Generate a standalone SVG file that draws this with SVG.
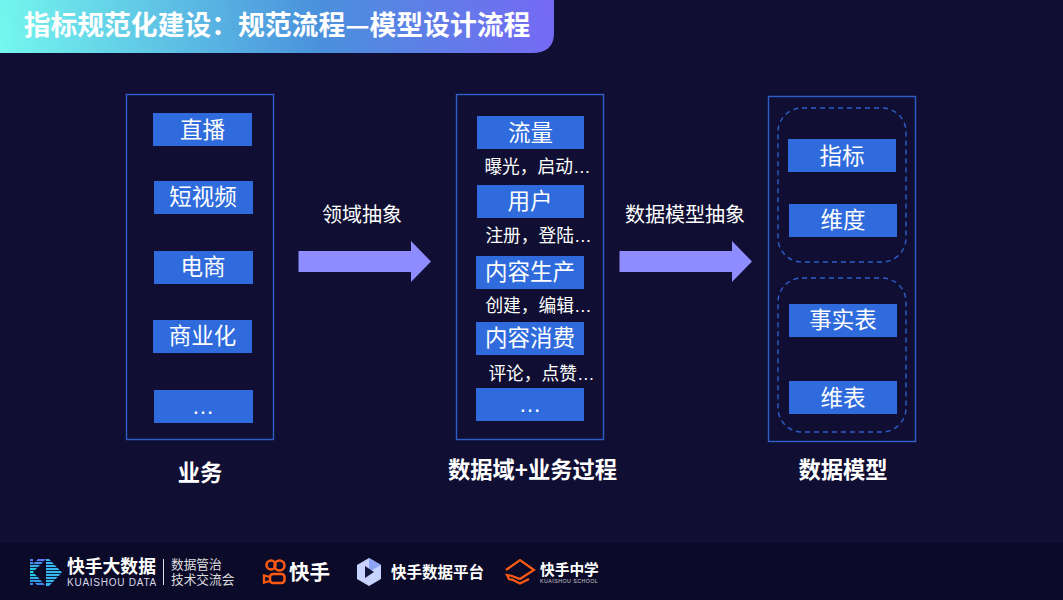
<svg xmlns="http://www.w3.org/2000/svg" width="1063" height="600" viewBox="0 0 1063 600">
<defs>
<linearGradient id="hdr" gradientUnits="userSpaceOnUse" x1="0" y1="50" x2="554" y2="0"><stop offset="0" stop-color="#74f7ee"/><stop offset=".58" stop-color="#4a90dc"/><stop offset="1" stop-color="#7669f4"/></linearGradient>
<linearGradient id="kw" x1="0" y1="0" x2="0" y2="1"><stop offset="0" stop-color="#5a6ff0"/><stop offset=".5" stop-color="#1fe0e6"/><stop offset="1" stop-color="#3f7fe8"/></linearGradient>
</defs>
<style>
text{font-family:"Noto Sans CJK SC","Noto Sans",sans-serif;fill:#fff;text-anchor:middle}
.el{font-family:"Liberation Sans",sans-serif}
.box{fill:#2f6bdc}
.panel{fill:none;stroke:#2c5fc8;stroke-width:1.4}
.dash{fill:none;stroke:#2c5fc8;stroke-width:1.4;stroke-dasharray:5 4}
.b{font-size:22.500px}
.s{font-size:17.700px}
.h{font-size:22.300px;font-weight:700}
.c{font-size:20px}
.arrow{fill:#8e8cff}
.lg{text-anchor:start}
</style>
<rect width="1063" height="600" fill="#100f33"/>
<rect y="543" width="1063" height="57" fill="#0b0b29"/>
<g id="header"><path d="M0 0H554V33Q554 53 532 53H0Z" fill="url(#hdr)"/><text x="277" y="34.500" style="font-size:26.800px;font-weight:700">指标规范化建设：规范流程—模型设计流程</text></g>
<g id="connectors">
<path class="arrow" d="M298.500 251H411V241L431 261.500L411 282V272H298.500Z"/>
<path class="arrow" d="M619.500 251H732V241L752 261.500L732 282V272H619.500Z"/>
</g>
<text class="c" x="362" y="221.500">领域抽象</text>
<text class="c" x="685" y="221.500">数据模型抽象</text>
<g id="biz"><rect class="panel" x="126.500" y="94.500" width="147" height="345"/>
<g id="biz-live"><rect class="box" x="153" y="113" width="99" height="33"/><text class="b" x="202.500" y="137.500">直播</text></g>
<g id="biz-short"><rect class="box" x="154" y="181" width="99" height="33"/><text class="b" x="203" y="204.500">短视频</text></g>
<g id="biz-ec"><rect class="box" x="154" y="251" width="99" height="33"/><text class="b" x="203" y="274.500">电商</text></g>
<g id="biz-com"><rect class="box" x="153" y="320" width="99" height="33"/><text class="b" x="202.500" y="343.500">商业化</text></g>
<g id="biz-more"><rect class="box" x="154" y="390" width="99" height="33"/><text class="b el" x="203" y="414">…</text></g>
<text class="h" x="200" y="481">业务</text></g>
<g id="domain"><rect class="panel" x="456.500" y="94.500" width="147" height="345"/>
<g id="d-flow"><rect class="box" x="477" y="116" width="107" height="33"/><text class="b" x="530.500" y="140.500">流量</text></g>
<text class="s" x="537.500" y="173">曝光，启动<tspan class="el">…</tspan></text>
<g id="d-user"><rect class="box" x="477" y="185" width="107" height="33"/><text class="b" x="530" y="208.500">用户</text></g>
<text class="s" x="538.500" y="242">注册，登陆<tspan class="el">…</tspan></text>
<g id="d-prod"><rect class="box" x="476" y="256" width="108" height="33"/><text class="b" x="530" y="279.500">内容生产</text></g>
<text class="s" x="538.500" y="312">创建，编辑<tspan class="el">…</tspan></text>
<g id="d-cons"><rect class="box" x="476" y="322" width="108" height="33"/><text class="b" x="530" y="345.500">内容消费</text></g>
<text class="s" x="541.500" y="380">评论，点赞<tspan class="el">…</tspan></text>
<g id="d-more"><rect class="box" x="476" y="388" width="108" height="33"/><text class="b el" x="530" y="412">…</text></g>
<text class="h" x="532.500" y="478">数据域+业务过程</text></g>
<g id="model"><rect class="panel" x="768.500" y="96.500" width="147" height="345"/>
<rect class="dash" x="778" y="108" width="128" height="154" rx="24"/>
<rect class="dash" x="778" y="278" width="128" height="154" rx="24"/>
<g id="m-metric"><rect class="box" x="788" y="139" width="108" height="33"/><text class="b" x="842" y="163.500">指标</text></g>
<g id="m-dim"><rect class="box" x="789" y="204" width="108" height="33"/><text class="b" x="843" y="227.500">维度</text></g>
<g id="m-fact"><rect class="box" x="789" y="304" width="108" height="33"/><text class="b" x="843" y="327.500">事实表</text></g>
<g id="m-dimt"><rect class="box" x="789" y="381" width="108" height="33"/><text class="b" x="843" y="405.500">维表</text></g>
<text class="h" x="843" y="478">数据模型</text></g>
<g id="footer">
<g id="kd"><path d="M30 559h3v5l5-5h8L33 572l12 13h-8l-4-4v4h-3z" fill="url(#kw)"/><path d="M46 559h3l13 13.500-13 13.500h-3z" fill="#38b6f0"/><path d="M30 561.500h33M30 564.500h33M30 567.500h33M30 570.500h33M30 573.500h33M30 576.500h33M30 579.500h33M30 582.500h33" stroke="#0b0b29" stroke-width=".9"/>
<text class="lg" x="67" y="573" style="font-size:17.800px;font-weight:700">快手大数据</text><text class="lg" x="67" y="586" style="font-family:'Liberation Sans',sans-serif;font-size:10px;letter-spacing:.75px;fill:#d8d8e8">KUAISHOU DATA</text>
<path d="M163.500 559V585" stroke="#ddd" stroke-width="1"/>
<text class="lg" x="171" y="569" style="font-size:12.700px;fill:#ddd">数据管治</text><text class="lg" x="171" y="584" style="font-size:12.700px;fill:#ddd">技术交流会</text></g>
<g id="ks"><circle cx="271" cy="565" r="4.500" fill="none" stroke="#ff5a12" stroke-width="2.500"/><circle cx="279.500" cy="565.500" r="5" fill="none" stroke="#ff5a12" stroke-width="2.500"/><rect x="270" y="574" width="14.500" height="9" rx="3" fill="none" stroke="#ff5a12" stroke-width="2.500"/><path d="M270 577l-6-1.500v7l6-1.500" fill="none" stroke="#ff5a12" stroke-width="2.300"/>
<text class="lg" x="289" y="580" style="font-size:20.500px;font-weight:700">快手</text></g>
<g id="pf"><path d="M369 558l12 7v14l-12 7-12-7v-14z" fill="#c8d2ff"/><path d="M369 558l12 7-12 7z" fill="#8fa4f5"/><path d="M365 566l9 6-9 6z" fill="#15153c"/>
<text class="lg" x="391" y="578" style="font-size:15.500px;font-weight:700">快手数据平台</text></g>
<g id="sch"><path d="M506 570l14-10 14 10-14 9-8-3-5-1 2 4 3 1" fill="none" stroke="#ff5a12" stroke-width="2.200"/><path d="M511 579l9 4.500 9-4.500" fill="none" stroke="#ff5a12" stroke-width="2.200"/>
<text class="lg" x="540" y="575" style="font-size:14.700px;font-weight:700">快手中学</text><text class="lg" x="540" y="583" style="font-family:'Liberation Sans',sans-serif;font-size:5.300px;letter-spacing:.45px;fill:#ccc">KUAISHOU  SCHOOL</text></g>
</g>
</svg>
